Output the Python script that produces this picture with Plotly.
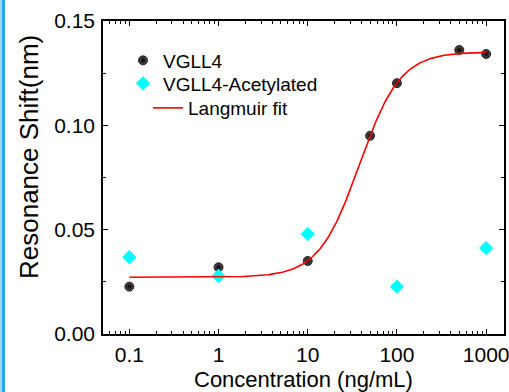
import numpy as np
import plotly.graph_objects as go

# ---- data ----
conc_vgll4 = [0.1, 1, 10, 50, 100, 500, 1000]
shift_vgll4 = [0.0227, 0.0320, 0.0350, 0.0950, 0.1202, 0.1361, 0.1342]

conc_acet = [0.1, 1, 10, 100, 1000]
shift_acet = [0.0368, 0.0278, 0.0479, 0.0227, 0.0412]

# Langmuir (Hill-type) fit parameters
fit_base = 0.0272
fit_top = 0.1352
fit_k = 38.0
fit_n = 1.9
fit_xmin, fit_xmax = 0.1, 1000

x_tickvals = [0.1, 1, 10, 100, 1000]
x_ticktext = ["0.1", "1", "10", "100", "1000"]
y_tickvals = [0.00, 0.05, 0.10, 0.15]

fit_x = np.logspace(np.log10(fit_xmin), np.log10(fit_xmax), 300)
fit_y = fit_base + (fit_top - fit_base) * fit_x**fit_n / (fit_k**fit_n + fit_x**fit_n)

FONT = "Arial, Liberation Sans, sans-serif"

fig = go.Figure()
fig.add_trace(go.Scatter(
    x=conc_vgll4, y=shift_vgll4, mode="markers", name="VGLL4", legend="legend",
    marker=dict(symbol="circle", size=9, color="#555555",
                gradient=dict(type="radial", color="#000000"),
                line=dict(width=0.8, color="#000000")),
))
fig.add_trace(go.Scatter(
    x=conc_acet, y=shift_acet, mode="markers", name="VGLL4-Acetylated", legend="legend2",
    marker=dict(symbol="diamond", size=11, color="#00FFFF", line=dict(width=0)),
))
fig.add_trace(go.Scatter(
    x=fit_x, y=fit_y, mode="lines", name="Langmuir fit", legend="legend3",
    line=dict(color="#FF0000", width=1.6),
))

W, H = 509, 392
L, R, T, B = 103, 5, 21, 58
PW, PH = W - L - R, H - T - B

axis_common = dict(
    showline=True, linecolor="black", linewidth=1.6, mirror="allticks",
    ticks="inside", ticklen=5, tickwidth=1.2, tickcolor="black",
    showgrid=False, zeroline=False, automargin=False,
    ticklabeloverflow="allow",
    tickfont=dict(family=FONT, size=21, color="black"),
)

fig.update_xaxes(
    type="log", range=[-1.295, 3.2],
    tickvals=x_tickvals, ticktext=x_ticktext, ticklabelstandoff=1,
    minor=dict(ticks="inside", ticklen=3, tickwidth=1, tickcolor="black", dtick="D1", showgrid=False),
    **axis_common,
)
fig.update_yaxes(
    range=[0, 0.15], tickvals=y_tickvals, tickformat=".2f", ticklabelstandoff=2,
    minor=dict(ticks="inside", ticklen=3, tickwidth=1, tickcolor="black", dtick=0.025, showgrid=False),
    **axis_common,
)


def leg(px_x, px_y):
    return dict(x=(px_x - L) / PW, y=(H - B - px_y) / PH, xanchor="left", yanchor="middle",
                bgcolor="rgba(0,0,0,0)", borderwidth=0,
                font=dict(family=FONT, size=19, color="black"),
                itemwidth=30, tracegroupgap=0)


fig.update_layout(
    width=W, height=H,
    margin=dict(l=L, r=R, t=T, b=B, pad=0, autoexpand=False),
    paper_bgcolor="white", plot_bgcolor="white",
    font=dict(family=FONT, color="black"),
    showlegend=True,
    legend=leg(123, 60.5),
    legend2=leg(123, 83.5),
    legend3=leg(148, 108),
    annotations=[
        dict(text="Concentration (ng/mL)", xref="paper", yref="paper",
             x=0.5, y=-(379 - (H - B)) / PH, xanchor="center", yanchor="middle",
             showarrow=False, font=dict(family=FONT, size=22, color="black")),
        dict(text="Resonance Shift(nm)", xref="paper", yref="paper", textangle=-90,
             x=-(L - 29) / PW, y=(H - B - 157) / PH, xanchor="center", yanchor="middle",
             showarrow=False, font=dict(family=FONT, size=26, color="black")),
    ],
    shapes=[
        dict(type="rect", xref="paper", yref="paper",
             x0=-L / PW, x1=-(L - 2) / PW, y0=-B / PH, y1=1 + T / PH,
             fillcolor="#9ad8f5", line=dict(width=0), layer="below"),
        dict(type="rect", xref="paper", yref="paper",
             x0=-(L - 2) / PW, x1=-(L - 5) / PW, y0=-B / PH, y1=1 + T / PH,
             fillcolor="#2aa8e8", line=dict(width=0), layer="below"),
    ],
)

fig.write_html("out.html", config={"displayModeBar": False},
               post_script="document.body.style.margin='0';document.body.style.overflow='hidden';")
